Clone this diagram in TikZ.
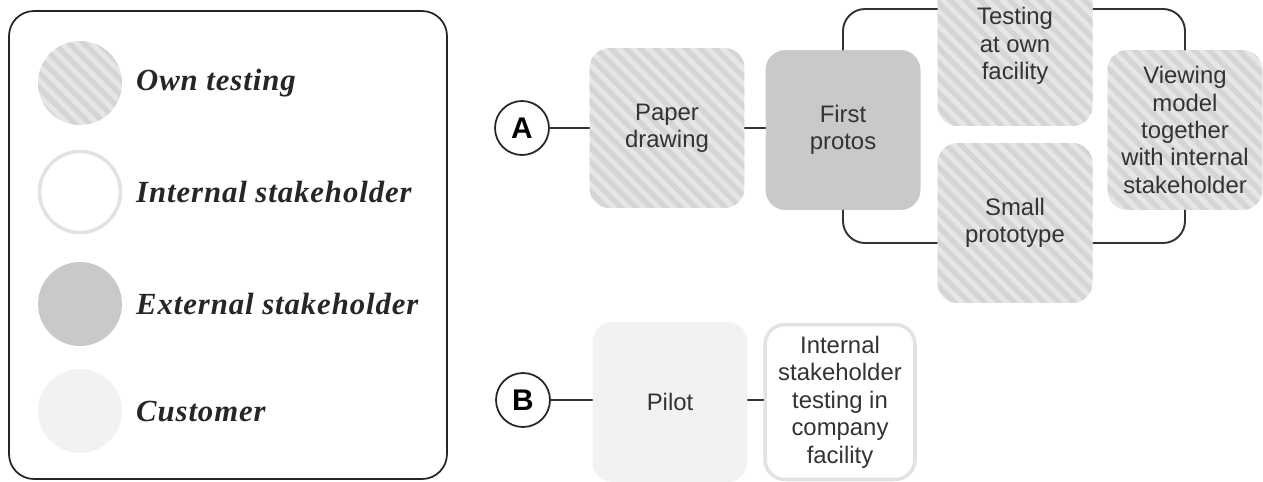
\documentclass[tikz,border=0pt]{standalone}
\usepackage{fontspec}
\setmainfont{Liberation Serif}
\setsansfont{Liberation Sans}
\usetikzlibrary{patterns.meta}
\definecolor{owngray}{HTML}{E6E6E6}
\definecolor{stripegray}{HTML}{D5D5D5}
\definecolor{extgray}{HTML}{C8C9CB}
\definecolor{custgray}{HTML}{F2F2F2}
\definecolor{intgray}{HTML}{E2E2E2}
\tikzset{
  hatch/.style={fill=owngray, postaction={pattern={Lines[angle=-45,distance=6pt,line width=3pt]}, pattern color=stripegray}},
  stage/.style={rectangle, rounded corners=4mm, minimum width=3.1cm, minimum height=3.2cm,
    align=center, text=black!80, font=\sffamily\fontsize{13.6}{15.6}\selectfont},
  dot/.style={circle, minimum size=1.68cm, inner sep=0pt},
  legtext/.style={anchor=west, text=black!85, font=\bfseries\itshape\fontsize{17.5}{20}\selectfont\addfontfeature{LetterSpace=3}},
  tag/.style={circle, draw=black!85, line width=1pt, minimum size=1.08cm, inner sep=0pt,
    font=\sffamily\bfseries\fontsize{17}{19}\selectfont},
  link/.style={draw=black!80, line width=1.1pt}
}
\begin{document}
\begin{tikzpicture}[x=0.02cm, y=-0.02cm, line join=round, line cap=round]
	\useasboundingbox (0,0) rectangle (1263,481);
	% legend
	\draw[black!85, line width=1pt, rounded corners=5mm] (9,11) rectangle (447,479);
	\node[dot, hatch] (kown) at (80,83) {};
	\node[dot, draw=intgray, line width=2pt, fill=white, minimum size=1.62cm] (kint) at (80,192) {};
	\node[dot, fill=extgray] (kext) at (80,304) {};
	\node[dot, fill=custgray] (kcust) at (80,411) {};
	\node[legtext] at (130,83) {Own testing};
	\node[legtext] at (130,192) {Internal stakeholder};
	\node[legtext] at (130,304) {External stakeholder};
	\node[legtext] at (130,411) {Customer};
	% route A
	\coordinate (looptop) at (0,9);
	\coordinate (loopbot) at (0,243);
	\node[tag] (A) at (522,128) {A};
	\node[stage, hatch] (paper) at (667,128) {Paper\\drawing};
	\node[stage, fill=extgray] (first) at (843,130) {First\\protos};
	\node[stage, hatch] (view) at (1185,130) {Viewing\\model\\together\\with internal\\stakeholder};
	\draw[link] (A) -- (paper);
	\draw[link] (paper.east) -- (paper.east -| first.west);
	\draw[link, rounded corners=4.4mm] (first.north) -- (first.north |- looptop) -- (view.north |- looptop) -- (view.north);
	\draw[link, rounded corners=4.4mm] (first.south) -- (first.south |- loopbot) -- (view.south |- loopbot) -- (view.south);
	\node[stage, hatch] (own) at (1015,46) {Testing\\at own\\facility};
	\node[stage, hatch] (small) at (1015,223) {Small\\prototype};
	% route B
	\node[tag] (B) at (523,400) {B};
	\node[stage, fill=custgray] (pilot) at (670,402) {Pilot};
	\node[stage, draw=intgray, line width=2pt, fill=white, minimum width=3.0cm, minimum height=3.1cm] (inside) at (840,402) {Internal\\stakeholder\\testing in\\company\\facility};
	\draw[link] (B) -- (B -| pilot.west);
	\draw[link] (pilot.east |- B) -- (inside.west |- B);
\end{tikzpicture}
\end{document}
